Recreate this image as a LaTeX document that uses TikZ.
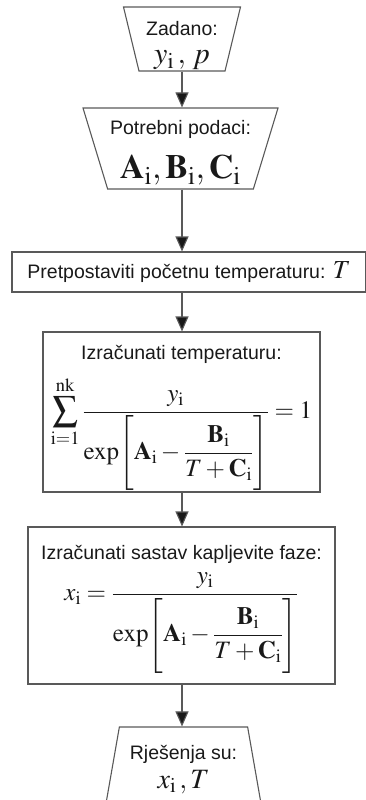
\documentclass[tikz,border=0pt]{standalone}
\usepackage{amsmath}
\usepackage{mathptmx}
\usepackage[no-math]{fontspec}
\setmainfont{Liberation Sans}
\usetikzlibrary{arrows.meta,positioning,shapes.geometric}

\newcommand{\idx}{\mathrm{i}}
\newcommand{\lblfont}{\fontsize{19.5}{23}\selectfont}

\begin{document}
\begin{tikzpicture}[x=1pt,y=-1pt,
  box/.style={draw=black!65,line width=1.1pt,rectangle,inner sep=0pt,align=center,text=black!90,font=\lblfont},
  trap/.style={draw=black!65,line width=1.1pt,trapezium,trapezium stretches body,inner sep=0pt,align=center,text=black!90,font=\lblfont},
  arr/.style={draw=black!65,line width=1.1pt,-{Triangle[length=15pt,width=13pt,fill=black!90]}}]
  % page frame as in the original image
  \useasboundingbox (0,0) rectangle (365,800);

  % given data (inverted trapezium)
  \node[trap,shape border rotate=180,trapezium angle=76,
        minimum width=117pt,minimum height=64pt] (zadano) at (182,39)
    {\rule{0pt}{28pt}Zadano:\\[5pt]
     {\fontsize{30}{30}\selectfont$y_\idx\,,\,p$}};

  % needed data
  \node[trap,shape border rotate=180,trapezium angle=71.6,
        minimum width=195pt,minimum height=81pt] (podaci) at (180.5,148.5)
    {\rule{0pt}{23pt}Potrebni podaci:\\[16pt]
     {\fontsize{34}{34}\selectfont$\mathbf{A}_\idx,\mathbf{B}_\idx,\mathbf{C}_\idx$}};

  % initial guess
  \node[box,minimum width=354pt,minimum height=40pt] (pocetna) at (189,272)
    {Pretpostaviti početnu temperaturu: {\fontsize{26}{26}\selectfont$T$}};

  % temperature from the sum condition
  \node[box,minimum width=277pt,minimum height=160pt] (temp) at (181.5,412)
    {\rule{0pt}{26pt}Izračunati temperaturu:\\[12pt]
     {\fontsize{25}{25}\selectfont$\displaystyle\sum_{\mathrm{i=1}}^{\mathrm{nk}}
      \frac{y_\idx}{\exp\Biggl[\mathbf{A}_\idx-\dfrac{\mathbf{B}_\idx}{T+\mathbf{C}_\idx}\Biggr]}=1$}};

  % liquid phase composition
  \node[box,minimum width=307pt,minimum height=157pt] (sastav) at (181.5,605.5)
    {\rule{0pt}{22pt}Izračunati sastav kapljevite faze:\\[8pt]
     {\fontsize{25}{25}\selectfont$x_\idx=\dfrac{y_\idx}
      {\exp\Biggl[\mathbf{A}_\idx-\dfrac{\mathbf{B}_\idx}{T+\mathbf{C}_\idx}\Biggr]}$}};

  % results (runs off the bottom edge)
  \node[trap,trapezium angle=73,
        minimum width=158pt,minimum height=85pt] (rjesenja) at (183.5,769.5)
    {Rješenja su:\\[6pt]
     {\fontsize{28}{28}\selectfont$x_\idx\,,T$}};

  \draw[arr] (zadano.south) -- (zadano.south |- podaci.north);
  \draw[arr] (podaci.south -| zadano.south) -- (zadano.south |- pocetna.north);
  \draw[arr] (pocetna.south -| zadano.south) -- (zadano.south |- temp.north);
  \draw[arr] (temp.south -| zadano.south) -- (zadano.south |- sastav.north);
  \draw[arr] (sastav.south -| zadano.south) -- (zadano.south |- rjesenja.north);
\end{tikzpicture}
\end{document}
